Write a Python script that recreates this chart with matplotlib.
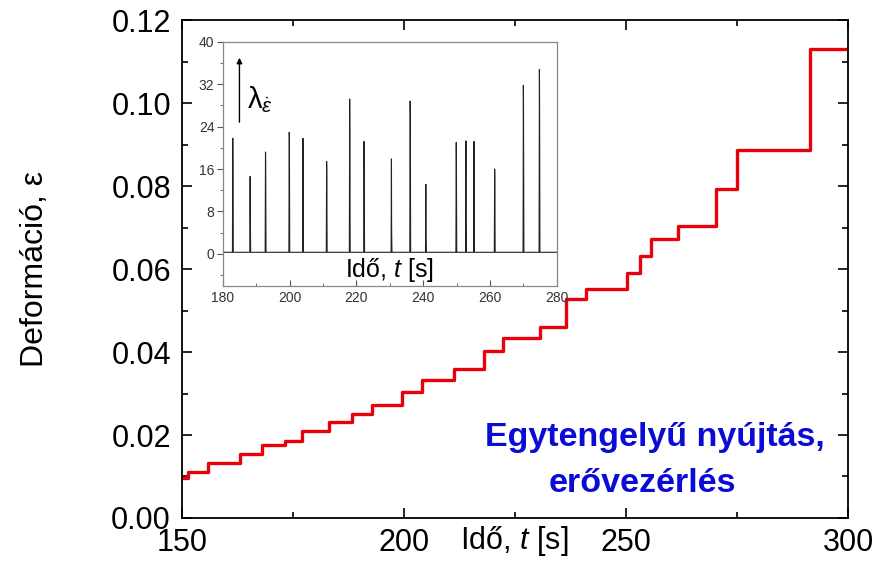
import matplotlib
matplotlib.use("Agg")
import matplotlib.pyplot as plt
from matplotlib.ticker import MultipleLocator

# main curve: step times and the strain level reached after each step
step_times = [150.0, 151.3, 155.9, 163.1, 168.0, 173.2, 177.0, 183.0, 188.2,
              192.7, 199.5, 204.0, 211.3, 218.0, 222.4, 230.6, 236.4, 241.0,
              250.2, 253.2, 255.6, 261.8, 270.3, 275.1, 291.4, 300.0]
step_levels = [0.0097, 0.0112, 0.0132, 0.0155, 0.0177, 0.0185, 0.0210, 0.0232,
               0.0251, 0.0272, 0.0303, 0.0333, 0.0358, 0.0402, 0.0433, 0.0461,
               0.0527, 0.0551, 0.0590, 0.0631, 0.0672, 0.0704, 0.0794, 0.0888,
               0.1131, 0.1131]

# inset: spike times, peak heights and the lower neighbouring sample
spike_times = [183.0, 188.2, 192.8, 199.9, 204.0, 211.1, 218.0, 222.3, 230.5,
               236.1, 240.8, 249.9, 252.8, 255.2, 261.4, 270.0, 274.8]
spike_peaks = [21.8, 14.6, 19.2, 22.9, 21.8, 17.4, 29.2, 21.2, 17.9,
               28.8, 13.1, 21.0, 21.3, 21.2, 16.0, 31.8, 34.8]
spike_second = [16.0, 7.5, 17.3, 22.0, 17.9, 15.0, 22.5, 16.0, 5.0,
                26.7, 3.8, 17.5, 6.0, 16.0, 14.0, 24.5, 28.3]
baseline = 0.3

plt.rcParams['font.family'] = ['Liberation Sans', 'DejaVu Sans']
plt.rcParams['mathtext.fontset'] = 'custom'
plt.rcParams['mathtext.rm'] = 'Liberation Sans'
plt.rcParams['mathtext.it'] = 'Liberation Sans:italic'

fig = plt.figure(figsize=(8.91, 5.73), dpi=100)
ax = fig.add_axes([0.2043, 0.096, 0.7475, 0.869])

ax.plot(step_times, step_levels, drawstyle='steps-post', color='#e8000a', lw=2.4)

ax.set_xlim(150, 300)
ax.set_ylim(0, 0.12)
ax.xaxis.set_major_locator(MultipleLocator(50))
ax.xaxis.set_minor_locator(MultipleLocator(25))
ax.yaxis.set_major_locator(MultipleLocator(0.02))
ax.yaxis.set_minor_locator(MultipleLocator(0.01))
ax.yaxis.set_major_formatter(matplotlib.ticker.FormatStrFormatter('%.2f'))
ax.tick_params(which='both', direction='in', top=True, right=True, width=1.2)
ax.tick_params(which='major', length=7, labelsize=22)
ax.tick_params(which='minor', length=4)
ax.tick_params(axis='y', pad=8)
ax.tick_params(axis='x', pad=7)
for s in ax.spines.values():
    s.set_linewidth(1.3)

ax.set_ylabel('Deformáció, ε', fontsize=23)
ax.yaxis.set_label_coords(-0.198, 0.5)
ax.set_xlabel(r'Idő, $\mathit{t}$ [s]', fontsize=22)
ax.xaxis.set_label_coords(0.499, -0.012)

ax.text(256.5, 0.01735, 'Egytengelyű nyújtás,', color='#0b0bd6',
        fontsize=24.5, fontweight='bold', ha='center', va='baseline')
ax.text(253.6, 0.00627, 'erővezérlés', color='#0b0bd6',
        fontsize=24.5, fontweight='bold', ha='center', va='baseline')

# inset with the strain-rate spikes
ins = fig.add_axes([0.25, 0.5014, 0.3749, 0.4258])
xs = [180.0]
ys = [baseline]
for t, p, q in zip(spike_times, spike_peaks, spike_second):
    xs += [t - 0.1, t, t + 0.05, t + 0.15]
    ys += [baseline, p, q, baseline]
xs.append(280.0)
ys.append(baseline)
ins.plot(xs, ys, color='#222222', lw=0.8)

ins.set_xlim(180, 280)
ins.set_ylim(-6, 40)
ins.xaxis.set_major_locator(MultipleLocator(20))
ins.xaxis.set_minor_locator(MultipleLocator(10))
ins.yaxis.set_major_locator(MultipleLocator(8))
ins.yaxis.set_minor_locator(MultipleLocator(4))
ins.tick_params(axis='y', which='both', direction='out', colors='#555555',
                labelcolor='#333333', labelsize=10, pad=2)
ins.tick_params(axis='x', which='both', direction='in', colors='#555555',
                labelcolor='#333333', labelsize=10, pad=4)
ins.tick_params(which='major', length=4)
ins.tick_params(which='minor', length=2.5)
for s in ins.spines.values():
    s.set_color('#888888')
    s.set_linewidth(0.9)

ins.text(0.5, 0.063, r'Idő, $\mathit{t}$ [s]', transform=ins.transAxes,
         fontsize=18, ha='center', va='center')
ins.annotate('', xy=(185, 37.5), xytext=(185, 24.3),
             arrowprops=dict(arrowstyle='-|>', color='black', lw=1.0,
                             mutation_scale=8))
ins.text(187.3, 29, r'$\mathrm{\lambda}_{\dot{\varepsilon}}$', fontsize=21,
         ha='left', va='center')

fig.savefig('out.png', dpi=100)
